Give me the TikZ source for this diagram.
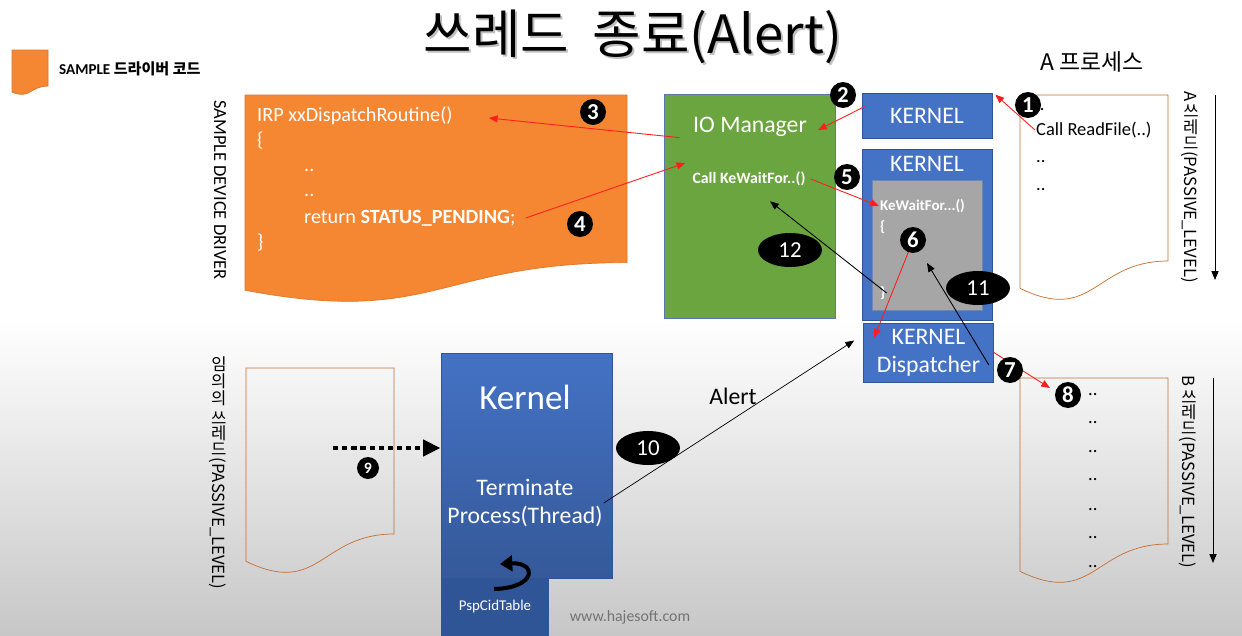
\documentclass[tikz,border=0pt]{standalone}
\usepackage{fontspec}
\usepackage{graphicx}
\setmainfont{Carlito}
\newfontfamily\kr{Noto Sans CJK KR}
\usetikzlibrary{arrows.meta,shapes.geometric}
\definecolor{orng}{RGB}{245,134,50}
\definecolor{grn}{RGB}{106,165,64}
\definecolor{kblue}{RGB}{68,114,196}
\definecolor{kdark}{RGB}{47,85,151}
\definecolor{docline}{RGB}{197,110,50}
\definecolor{arrred}{RGB}{255,30,30}
\definecolor{gbox}{RGB}{166,166,166}
\newcommand{\docshape}[5]{\draw[#5] (#1,#2) -- ({#1+#3},#2) -- ({#1+#3},{#2+0.802*#4}) .. controls ({#1+0.5*#3},{#2+0.802*#4}) and ({#1+0.5*#3},{#2+1.107*#4}) .. (#1,{#2+0.934*#4}) -- cycle;}
\newcommand{\up}[1]{\rotatebox[origin=c]{90}{#1}\hspace{0.12em}}
\begin{document}
\begin{tikzpicture}[x=0.02cm,y=-0.02cm,
kbox/.style={draw=kdark,fill=kblue,text=white,minimum width=2.6cm,inner sep=0,font=\fontsize{13.5}{16}\selectfont},
wtxt/.style={text=white,inner sep=0.5pt,font=\fontsize{13.5}{16}\selectfont},
otxt/.style={text=white,inner sep=0.5pt,anchor=west,font=\fontsize{11.5}{14}\selectfont},
gtxt/.style={text=white,inner sep=0.5pt,anchor=west,font=\bfseries\fontsize{8.5}{10}\selectfont},
dtxt/.style={inner sep=0.5pt,anchor=west,font=\fontsize{10.5}{12}\selectfont},
vtxt/.style={rotate=-90,inner sep=0,font=\kr\fontsize{9.5}{11}\selectfont},
badge/.style={circle,fill=black,text=white,inner sep=0,minimum size=0.52cm,font=\bfseries\fontsize{13}{13}\selectfont},
oval/.style={ellipse,fill=black,text=white,inner sep=0,minimum width=1.28cm,minimum height=0.68cm,font=\fontsize{13}{13}\selectfont},
redarr/.style={draw=arrred,line width=0.5pt,-{Triangle[length=5pt,width=4pt]}},
blkarr/.style={draw=black,line width=0.5pt,-{Triangle[length=5pt,width=4pt]}}]
\clip (0,0) rectangle (1242,636);
\fill[white] (0,0) rectangle (1242,320);
\shade[top color=white,bottom color=black!22] (0,320) rectangle (1242,636);
\node[font=\kr\fontsize{30}{34}\selectfont,text=black!25] (titsh) at (635,39) {쓰레드\hspace{0.45em}종료(Alert)};
\node[font=\kr\fontsize{30}{34}\selectfont] (title) at (633,37) {쓰레드\hspace{0.45em}종료(Alert)};
\docshape{12}{50}{36}{45}{fill=orng,draw=orng!90!black}
\node[anchor=west,inner sep=0.5pt,font=\bfseries\fontsize{8.6}{10}\selectfont] (legend) at (58,69) {SAMPLE {\kr 드라이버 코드}};
\node[rotate=-90,inner sep=0,font=\fontsize{10.5}{12}\selectfont] (sdd) at (220,190) {SAMPLE DEVICE DRIVER};
\docshape{245}{95}{382}{209}{fill=orng,draw=orng!90!black}
\node[otxt] (irp) at (256,116) {IRP xxDispatchRoutine()};
\node[otxt] (ob) at (256,141) {\{};
\node[otxt] (od1) at (303,170) {..};
\node[otxt] (od2) at (303,195) {..};
\node[otxt] (ret) at (303,218) {return \textbf{STATUS\_PENDING};};
\node[otxt] (cb) at (256,243) {\}};
\node[fill=grn,draw=kdark!80,minimum width=3.42cm,minimum height=4.48cm] (iom) at (749.5,206) {};
\node[wtxt] (iomt) at (750,127) {IO Manager};
\node[wtxt,font=\bfseries\fontsize{9}{11}\selectfont] (callkw) at (749,179) {Call KeWaitFor..()};
\node[kbox,minimum height=0.9cm] (kern1) at (927,115.5) {KERNEL};
\node[kbox,minimum height=3.42cm] (kern2) at (927,234.5) {};
\node[wtxt] (kern2t) at (927,164) {KERNEL};
\node[fill=gbox,draw=kdark!70,minimum width=2.2cm,minimum height=2.6cm] (gray) at (927,245) {};
\node[gtxt] (kwf) at (879,206) {KeWaitFor...()};
\node[gtxt] (kob) at (879,227) {\{};
\node[gtxt] (kcb) at (879,293) {\}};
\node[kbox,minimum height=1.18cm,align=center] (disp) at (928.5,352.5) {KERNEL\\Dispatcher};
\node[font=\kr\fontsize{13}{15}\selectfont] (aproc) at (1092,62) {A 프로세스};
\docshape{1020}{95}{148}{207}{draw=docline}
\node[dtxt] (adot) at (1034,110) {..};
\node[dtxt] (callrf) at (1035,130) {Call ReadFile(..)};
\node[dtxt] (ad1) at (1035,162) {..};
\node[dtxt] (ad2) at (1035,190) {..};
\node[vtxt] (athr) at (1190,187) {A \up{쓰}\up{레}\up{드}(PASSIVE\_LEVEL)};
\coordinate (atop) at (1215,95); \coordinate (abot) at (1215,280);
\draw[blkarr] (atop) -- (abot);
\docshape{1020}{378}{148}{207}{draw=docline}
\foreach \i/\yy in {1/395,2/423,3/452,4/480,5/510,6/538,7/567}
  \node[dtxt] (bd\i) at (1087,\yy) {..};
\node[vtxt] (bthr) at (1188,472) {B \up{쓰}\up{레}\up{드}(PASSIVE\_LEVEL)};
\coordinate (btop) at (1213,378); \coordinate (bbot) at (1213,563);
\draw[blkarr] (btop) -- (bbot);
\node[vtxt] (anythr) at (218,473) {\up{임}\up{의}\up{의} \up{쓰}\up{레}\up{드}(PASSIVE\_LEVEL)};
\docshape{246}{368}{148}{207}{draw=docline}
\node[fill=kdark,draw=kdark,minimum width=2.14cm,minimum height=1.4cm,anchor=north west] (psp) at (441,578) {};
\node[draw=kdark,top color=kblue,bottom color=kblue!78!black,minimum width=3.42cm,minimum height=4.5cm] (kproc) at (526.5,465.5) {};
\node[wtxt,font=\fontsize{20}{24}\selectfont] (kt) at (525,397) {Kernel};
\node[wtxt,align=center] (term) at (525,503) {Terminate\\Process(Thread)};
\node[wtxt,font=\fontsize{8.5}{10}\selectfont] (pspt) at (495,607) {PspCidTable};
\coordinate (cu1) at (494,589); \coordinate (cu2) at (500,564);
\draw[line width=2.3pt,-{Triangle[length=7pt,width=9pt]}] (cu1) .. controls (537,588) and (537,562) .. (cu2);
\node[text=black!55,font=\fontsize{9}{11}\selectfont] (web) at (630,617) {www.hajesoft.com};
\node[font=\fontsize{13.5}{16}\selectfont] (alert) at (733,396) {Alert};
\coordinate (s9) at (333,448);
\draw[line width=2.8pt,dash pattern=on 3pt off 2.2pt,-{Triangle[length=10pt,width=9pt]}] (s9) -- (s9 -| kproc.west);
\draw[redarr] (callrf.west) -- ([xshift=0.06cm,yshift=-0.04cm]kern1.north east);
\draw[redarr] ([xshift=0.06cm,yshift=0.18cm]kern1.west) -- ([xshift=0.2cm,yshift=-0.06cm]iomt.east);
\draw[redarr] ([xshift=0.32cm,yshift=-0.88cm]iom.north west) -- ([xshift=0.7cm,yshift=-0.04cm]irp.east);
\draw[redarr] ([xshift=0.18cm]ret.east) -- ([xshift=-0.12cm,yshift=0.32cm]callkw.west);
\draw[redarr] ([xshift=0.08cm]callkw.east) -- (kwf.west);
\draw[redarr] ([xshift=-0.34cm,yshift=-0.06cm]gray.center) -- ([xshift=0.22cm,yshift=-0.3cm]disp.north west);
\draw[redarr] (disp.east) -- (1050,388);
\draw[blkarr] ([xshift=-0.1cm,yshift=-0.25cm]disp.east) -- ([yshift=-0.36cm]gray.center);
\draw[blkarr] (kcb.east) -- ([xshift=0.42cm,yshift=-0.28cm]callkw.south);
\draw[blkarr,line width=0.4pt] (term.east) -- ([xshift=-0.18cm,yshift=0.24cm]disp.west);
\node[badge] (b1) at (1028,105) {1};
\node[badge] (b2) at (843,95) {2};
\node[badge] (b3) at (593,112) {3};
\node[badge] (b4) at (580,224) {4};
\node[badge] (b5) at (847,177) {5};
\node[badge] (b6) at (913,240) {6};
\node[badge] (b7) at (1010,370) {7};
\node[badge] (b8) at (1068,395) {8};
\node[badge,minimum size=0.44cm,font=\bfseries\fontsize{9}{9}\selectfont] (b9) at (368,468) {9};
\node[oval] (b10) at (648,448) {10};
\node[oval] (b11) at (978,288) {11};
\node[oval] (b12) at (790,250) {12};
\end{tikzpicture}
\end{document}
